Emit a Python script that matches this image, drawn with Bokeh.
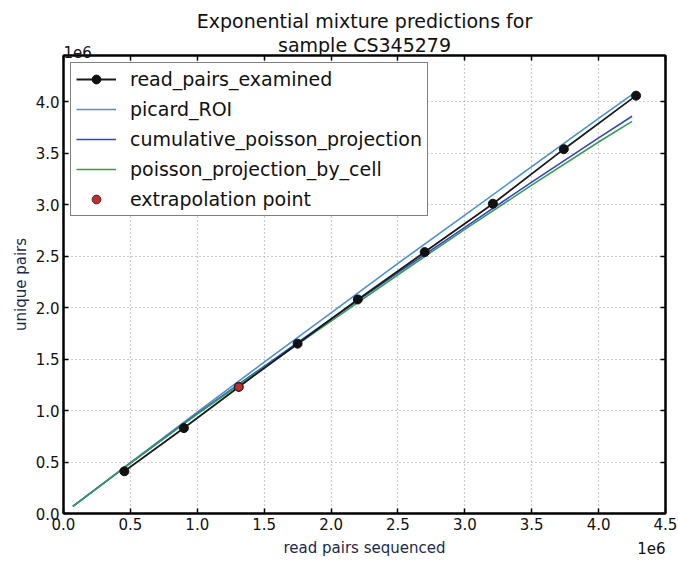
from bokeh.plotting import figure
from bokeh.models import (LinearAxis, Title, FixedTicker, PrintfTickFormatter,
                          Range1d, Legend, LegendItem)
from bokeh.embed import file_html
from bokeh.resources import INLINE

# values in units of 1e6
examined_x = [0.455, 0.90, 1.31, 1.75, 2.20, 2.70, 3.21, 3.74, 4.28]
examined_y = [0.41, 0.83, 1.23, 1.65, 2.08, 2.54, 3.01, 3.54, 4.06]
proj_x = [0.07, 0.5, 1.0, 1.5, 2.0, 2.5, 3.0, 3.5, 4.0, 4.25]
picard_y = [0.07, 0.495, 0.985, 1.47, 1.95, 2.43, 2.90, 3.37, 3.84, 4.07]
cumulative_y = [0.07, 0.49, 0.97, 1.43, 1.89, 2.34, 2.78, 3.22, 3.65, 3.86]
by_cell_y = [0.07, 0.49, 0.965, 1.42, 1.87, 2.32, 2.76, 3.19, 3.61, 3.81]
extrap_x = [1.31]
extrap_y = [1.23]
x_ticks = [0.0, 0.5, 1.0, 1.5, 2.0, 2.5, 3.0, 3.5, 4.0, 4.5]
y_ticks = [0.0, 0.5, 1.0, 1.5, 2.0, 2.5, 3.0, 3.5, 4.0]

FONT = "DejaVu Sans"

p = figure(width=678, height=562, output_backend="svg", toolbar_location=None,
           x_range=Range1d(0, 4.5), y_range=Range1d(0, 4.45),
           min_border_left=63, min_border_right=13, min_border_top=55, min_border_bottom=49,
           background_fill_color="white", border_fill_color="white")
p.outline_line_color = "black"
p.outline_line_width = 2

for ax in (p.xaxis[0], p.yaxis[0]):
    ax.major_tick_in = 5
    ax.major_tick_out = 0
    ax.minor_tick_line_color = None
    ax.axis_line_width = 2
    ax.major_tick_line_width = 1.5
    ax.major_label_text_font = FONT
    ax.major_label_text_font_size = "15px"
    ax.major_label_text_color = "#111111"
    ax.axis_label_text_font = FONT
    ax.axis_label_text_font_size = "15px"
    ax.axis_label_text_font_style = "normal"
    ax.axis_label_text_color = "#1c2a4a"
    ax.formatter = PrintfTickFormatter(format="%.1f")
p.xaxis[0].ticker = FixedTicker(ticks=x_ticks)
p.yaxis[0].ticker = FixedTicker(ticks=y_ticks)
p.xaxis[0].axis_label = "read pairs sequenced"
p.yaxis[0].axis_label = "unique pairs"
p.xaxis[0].major_label_standoff = 4
p.yaxis[0].major_label_standoff = 4
p.xaxis[0].axis_label_standoff = 6
p.yaxis[0].axis_label_standoff = 3

for loc, ticks in (("above", x_ticks), ("right", y_ticks)):
    ax = LinearAxis(ticker=FixedTicker(ticks=ticks), major_label_text_font_size="1px",
                    major_label_text_alpha=0, major_label_text_color=None,
                    major_label_standoff=0, major_tick_in=5, major_tick_out=0,
                    minor_tick_line_color=None, axis_line_width=2, major_tick_line_width=1.5)
    p.add_layout(ax, loc)

p.xgrid[0].ticker = FixedTicker(ticks=x_ticks)
p.ygrid[0].ticker = FixedTicker(ticks=y_ticks)
for g in (p.xgrid[0], p.ygrid[0]):
    g.grid_line_color = "#9a9a9a"
    g.grid_line_dash = "1 3"
    g.grid_line_width = 1.2

r_pic = p.line(proj_x, picard_y, line_color="#4a90d6", line_width=1.6)
r_cum = p.line(proj_x, cumulative_y, line_color="#2f47c2", line_width=1.6)
r_cell = p.line(proj_x, by_cell_y, line_color="#3a9a50", line_width=1.6)
r_ex_l = p.line(examined_x, examined_y, line_color="#1a1a1a", line_width=1.8)
r_ex_m = p.scatter(examined_x, examined_y, size=9, fill_color="#111111", line_color="#111111")
r_red = p.scatter(extrap_x, extrap_y, size=8, fill_color="#b83232", line_color="#6a1a1a")

legend = Legend(items=[
    LegendItem(label="read_pairs_examined", renderers=[r_ex_l, r_ex_m]),
    LegendItem(label="picard_ROI", renderers=[r_pic]),
    LegendItem(label="cumulative_poisson_projection", renderers=[r_cum]),
    LegendItem(label="poisson_projection_by_cell", renderers=[r_cell]),
    LegendItem(label="extrapolation point", renderers=[r_red]),
], location="top_left")
legend.label_text_font = FONT
legend.label_text_font_size = "19px"
legend.label_text_color = "#111111"
legend.border_line_color = "black"
legend.border_line_width = 1.5
legend.background_fill_alpha = 1
legend.glyph_width = 40
legend.glyph_height = 22
legend.label_height = 22
legend.spacing = 8
legend.padding = 5
legend.margin = 7
legend.label_standoff = 14
p.add_layout(legend)

# offset-exponent label of the y axis (top-left), overlapping the title row
p.add_layout(Title(text="1e6", align="left", vertical_align="top", text_font=FONT,
                   standoff=-19, offset=0, text_font_size="15px", text_font_style="normal",
                   text_color="#111111"), "above")
p.add_layout(Title(text="sample CS345279", align="center", text_font=FONT, standoff=0,
                   text_font_size="19px", text_font_style="normal", text_color="#111111"), "above")
p.add_layout(Title(text="Exponential mixture predictions for", align="center", text_font=FONT,
                   standoff=0, text_font_size="19px", text_font_style="normal",
                   text_color="#111111"), "above")
# offset-exponent label of the x axis (bottom-right)
p.add_layout(Title(text="1e6", align="right", vertical_align="top", text_font=FONT,
                   standoff=-36, offset=0, text_font_size="15px", text_font_style="normal",
                   text_color="#111111"), "below")

open("out.html", "w").write(file_html(p, INLINE))
